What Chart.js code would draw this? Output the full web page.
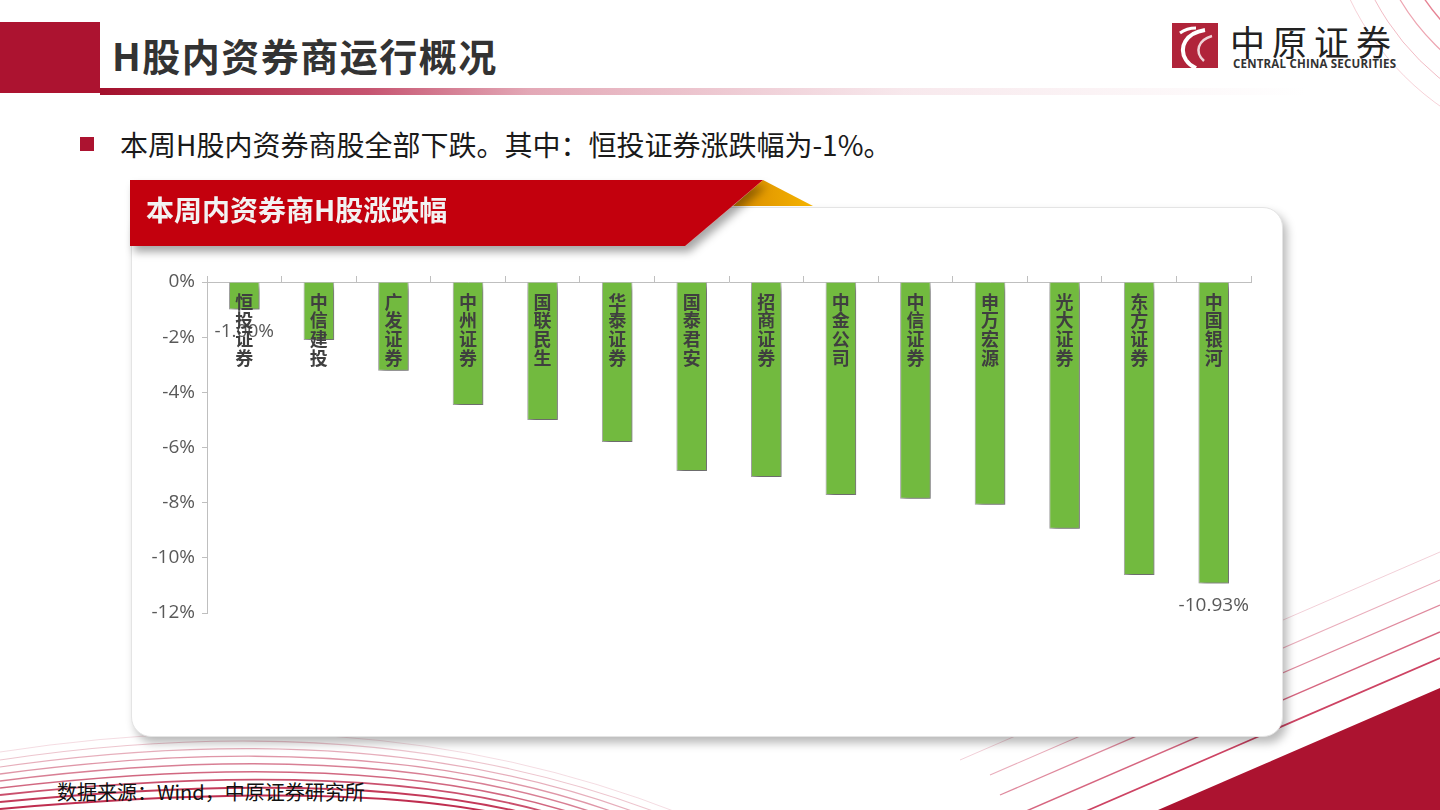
<!DOCTYPE html>
<html>
<head>
<meta charset="utf-8">
<script src="https://cdn.jsdelivr.net/npm/chart.js@4"></script>
<style>
  html, body { margin: 0; padding: 0; background: #fff; }
  body { width: 1440px; height: 810px; position: relative; overflow: hidden; font-family: "Noto Sans CJK SC", sans-serif; }
  .abs { position: absolute; }
  #deco { left: 0; top: 0; z-index: 0; }
  #hdrBlock { left: 0; top: 22px; width: 100px; height: 71px; background: #AC1330; }
  #hdrLine { left: 100px; top: 88px; width: 1340px; height: 7px;
    background: linear-gradient(to right, #A3102C 0%, #C65470 20%, #E3A8B6 32%, rgba(240,210,218,0.5) 60%, rgba(255,255,255,0) 90%); }
  #title { left: 112px; top: 27px; font-size: 38px; font-weight: 700; color: #333; letter-spacing: 1.5px; line-height: 56px; }
  #bullet { left: 80px; top: 137px; width: 14px; height: 14px; background: #AC1330; }
  #lead { left: 120px; top: 125px; font-size: 28px; color: #1a1a1a; line-height: 38px; }
  #panel { left: 131px; top: 207px; width: 1152px; height: 530px; background: #fff; border-radius: 20px;
    box-shadow: 4px 6px 10px rgba(0,0,0,0.28); border: 1px solid #e4e4e4; box-sizing: border-box; z-index: 1; }
  #chartBox { left: 131px; top: 207px; width: 1152px; height: 530px; z-index: 2; }
  #banner { left: 0; top: 0; z-index: 3; }
  #bannerText { left: 146px; top: 189px; font-size: 28px; font-weight: 700; color: #f2f2f2; z-index: 4; line-height: 40px; }
  #source { left: 57px; top: 777px; font-size: 20px; color: #111; z-index: 2; line-height: 30px; }
  #logoCn { left: 1230px; top: 16px; font-size: 35px; color: #222; letter-spacing: 7px; z-index: 2; line-height: 50px; }
  #logoEn { left: 1233px; top: 57px; font-size: 11.5px; font-weight: 700; color: #333; z-index: 2; font-family: "Open Sans", sans-serif; letter-spacing: 0.2px; line-height: 14px; }
</style>
</head>
<body>

<svg id="deco" class="abs" width="1440" height="810">
  <!-- top right arcs -->
  <g fill="none" stroke="#D21E3C">
    <circle cx="1600" cy="-120" r="277" stroke-opacity="0.2" stroke-width="1"/>
    <circle cx="1600" cy="-120" r="255" stroke-opacity="0.3" stroke-width="1"/>
    <circle cx="1600" cy="-120" r="233" stroke-opacity="0.4" stroke-width="1.2"/>
    <circle cx="1600" cy="-120" r="212" stroke-opacity="0.55" stroke-width="1.4"/>
    <circle cx="1600" cy="-120" r="192" stroke-opacity="0.7" stroke-width="1.6"/>
  </g>
  <!-- bottom left curves -->
  <g fill="none" stroke="#B8163C">
    <path d="M0,752 Q400,690 720,830" stroke-opacity="0.15" stroke-width="1"/>
    <path d="M0,760 Q400,700 700,830" stroke-opacity="0.25" stroke-width="1.1"/>
    <path d="M0,767 Q400,710 680,830" stroke-opacity="0.35" stroke-width="1.2"/>
    <path d="M0,774 Q400,720 660,830" stroke-opacity="0.45" stroke-width="1.3"/>
    <path d="M0,781 Q400,730 640,830" stroke-opacity="0.55" stroke-width="1.5"/>
    <path d="M0,788 Q400,741 620,830" stroke-opacity="0.65" stroke-width="1.6"/>
    <path d="M0,795 Q400,752 600,830" stroke-opacity="0.75" stroke-width="1.8"/>
    <path d="M0,802 Q400,763 580,830" stroke-opacity="0.85" stroke-width="2"/>
    <path d="M0,809 Q400,774 560,830" stroke-opacity="0.9" stroke-width="2"/>
  </g>
  <!-- bottom right diagonal lines -->
  <g fill="none" stroke="#C0143C">
    <line x1="1440" y1="552" x2="960" y2="760" stroke-opacity="0.2" stroke-width="1"/>
    <line x1="1440" y1="580" x2="990" y2="775" stroke-opacity="0.35" stroke-width="1.1"/>
    <line x1="1440" y1="605" x2="1000" y2="795" stroke-opacity="0.5" stroke-width="1.3"/>
    <line x1="1440" y1="632" x2="1024" y2="812" stroke-opacity="0.65" stroke-width="1.5"/>
    <line x1="1440" y1="658" x2="1084" y2="812" stroke-opacity="0.8" stroke-width="1.7"/>
  </g>
  <polygon points="1158,810 1440,810 1440,688" fill="#AC1330"/>
  <!-- logo mark -->
  <rect x="1172" y="23" width="46" height="45" fill="#B0243A"/>
  <path d="M1205,30 C1186,33 1178,47 1186,60 C1190,66 1194,67 1196,68" fill="none" stroke="#fff" stroke-width="4"/>
  <path d="M1212,36 C1198,40 1194,52 1204,61" fill="none" stroke="#fff" stroke-width="2.5" stroke-opacity="0.8"/>
  <path d="M1180,33 C1184,30 1190,28 1196,28" fill="none" stroke="#fff" stroke-width="3"/>
</svg>

<div id="hdrBlock" class="abs"></div>
<div id="hdrLine" class="abs"></div>
<div id="title" class="abs">H股内资券商运行概况</div>
<div id="logoCn" class="abs">中原证券</div>
<div id="logoEn" class="abs">CENTRAL CHINA SECURITIES</div>
<div id="bullet" class="abs"></div>
<div id="lead" class="abs">本周H股内资券商股全部下跌。其中：恒投证券涨跌幅为-1%。</div>

<div id="panel" class="abs"></div>
<div id="chartBox" class="abs"><canvas id="chg"></canvas></div>

<svg id="banner" class="abs" width="900" height="270">
  <defs>
    <filter id="sh" x="-5%" y="-20%" width="115%" height="160%">
      <feDropShadow dx="4" dy="6" stdDeviation="4" flood-color="#000" flood-opacity="0.35"/>
    </filter>
    <linearGradient id="fold" x1="0" y1="0" x2="1" y2="0">
      <stop offset="0" stop-color="#D98A00"/>
      <stop offset="1" stop-color="#F5B400"/>
    </linearGradient>
  </defs>
  <polygon points="763,180 813,206 733,206" fill="url(#fold)"/>
  <polygon points="130,180 763,180 685,246 130,246" fill="#C3000C" filter="url(#sh)"/>
</svg>
<div id="bannerText" class="abs">本周内资券商H股涨跌幅</div>

<div id="source" class="abs">数据来源：Wind，中原证券研究所</div>

<script>
const brokers = ['恒投证券', '中信建投', '广发证券', '中州证券', '国联民生', '华泰证券', '国泰君安',
                 '招商证券', '中金公司', '中信证券', '申万宏源', '光大证券', '东方证券', '中国银河'];
const weeklyChange = [-1.00, -2.10, -3.22, -4.46, -5.00, -5.80, -6.85, -7.07, -7.72, -7.86, -8.08, -8.95, -10.62, -10.93];
const labelledBars = [0, 13];
const yTicks = [0, -2, -4, -6, -8, -10, -12];

Chart.defaults.font.family = '"Open Sans", "Noto Sans CJK SC", sans-serif';
Chart.defaults.color = '#595959';

// shadow behind the bars
const barShadow = {
  id: 'barShadow',
  beforeDatasetsDraw(chart) {
    const ctx = chart.ctx;
    ctx.save();
    ctx.shadowColor = 'rgba(0,0,0,0.42)';
    ctx.shadowBlur = 6;
    ctx.shadowOffsetX = 3;
    ctx.shadowOffsetY = 4;
  },
  afterDatasetsDraw(chart) {
    chart.ctx.restore();
  }
};

// value labels under the first/last bar, then broker names stacked inside bars
const barText = {
  id: 'barText',
  afterDatasetsDraw(chart) {
    const ctx = chart.ctx;
    const meta = chart.getDatasetMeta(0);
    const y = chart.scales.y;
    ctx.save();
    ctx.textAlign = 'center';
    ctx.textBaseline = 'middle';
    ctx.fillStyle = '#595959';
    ctx.font = '19px "Open Sans", sans-serif';
    labelledBars.forEach(i => {
      const bar = meta.data[i];
      ctx.fillText(weeklyChange[i].toFixed(2) + '%', bar.x, bar.y + 22);
    });
    ctx.fillStyle = '#3f3f3f';
    ctx.font = 'bold 18px "Noto Sans CJK SC", sans-serif';
    const top = y.getPixelForValue(0);
    brokers.forEach((name, i) => {
      const bar = meta.data[i];
      [...name].forEach((ch, k) => ctx.fillText(ch, bar.x, top + 20 + k * 18.6));
    });
    ctx.restore();
  }
};

new Chart(document.getElementById('chg'), {
  type: 'bar',
  data: {
    labels: brokers,
    datasets: [{
      data: weeklyChange,
      backgroundColor: '#72BA3F',
      borderColor: 'rgba(100,100,100,0.55)',
      borderWidth: 1,
      categoryPercentage: 1,
      barPercentage: 0.41
    }]
  },
  options: {
    responsive: true,
    maintainAspectRatio: false,
    animation: false,
    devicePixelRatio: 1,
    layout: { padding: { top: 69, left: 0, right: 32, bottom: 124 } },
    plugins: { legend: { display: false }, tooltip: { enabled: false } },
    scales: {
      x: {
        position: 'top',
        grid: { offset: true, drawOnChartArea: false, tickLength: 6, color: '#BFBFBF' },
        border: { color: '#BFBFBF' },
        ticks: { display: false },
        afterFit(s) { s.height = 6; }
      },
      y: {
        min: -12,
        max: 0,
        afterBuildTicks(s) { s.ticks = yTicks.map(v => ({ value: v })); },
        grid: { drawOnChartArea: false, tickLength: 5, color: '#BFBFBF' },
        border: { color: '#BFBFBF' },
        ticks: { padding: 7, font: { size: 19 }, color: '#595959', callback: v => v + '%' },
        afterFit(s) { s.width = 76; }
      }
    }
  },
  plugins: [barShadow, barText]
});
</script>
</body>
</html>
